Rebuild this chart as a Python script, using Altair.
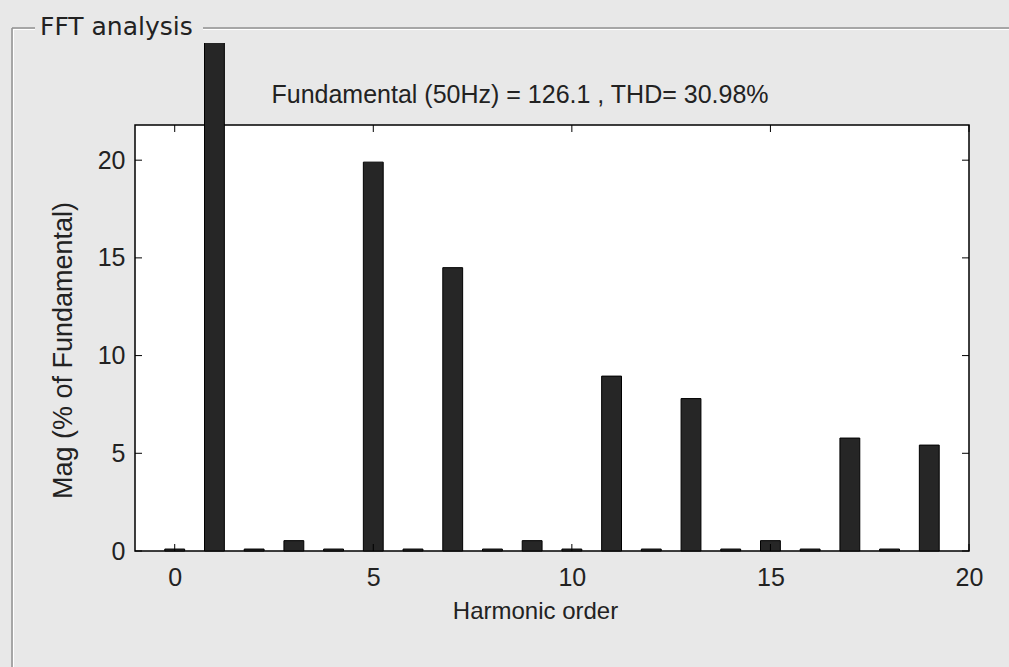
import altair as alt
import pandas as pd

# ---- data ----
harmonics = list(range(20))
magnitudes = [0.1, 100.0, 0.1, 0.53, 0.1, 19.9, 0.1, 14.5, 0.1, 0.53,
              0.1, 8.95, 0.1, 7.8, 0.1, 0.53, 0.1, 5.78, 0.1, 5.42]
x_tick_values = [0, 5, 10, 15, 20]
y_tick_values = [0, 5, 10, 15, 20]
x_domain = [-1, 20]
y_domain = [0, 21.8]
panel_title = "FFT analysis"
plot_title = "Fundamental (50Hz) = 126.1  , THD= 30.98%"
x_title = "Harmonic order"
y_title = "Mag (% of Fundamental)"

W, H = 834, 426
BG = "#e8e8e8"
FONT = "Liberation Sans"

bars_df = pd.DataFrame({"h": harmonics, "mag": magnitudes})
xt_df = pd.DataFrame({"x0": x_tick_values})
yt_df = pd.DataFrame({"mag": y_tick_values})
one = pd.DataFrame({"k": [0]})

xs = alt.Scale(domain=x_domain, nice=False, zero=False)
ys = alt.Scale(domain=y_domain, nice=False)

x_axis = alt.Axis(
    values=x_tick_values, ticks=False, domain=False, grid=False,
    labelFont=FONT, labelFontSize=25, labelColor="#222222",
    labelBaseline="alphabetic", labelPadding=34, labelFlush=False,
    title=x_title, titleFont=FONT, titleFontSize=24, titleFontWeight="normal",
    titleColor="#222222", titleX=400, titleY=67, titleBaseline="alphabetic",
    titleAlign="center")
y_axis = alt.Axis(
    values=y_tick_values, ticks=False, domain=False, grid=False,
    labelFont=FONT, labelFontSize=25, labelColor="#222222",
    labelBaseline="middle", labelPadding=10, labelFlush=False,
    title=y_title, titleFont=FONT, titleFontSize=27, titleFontWeight="normal",
    titleColor="#222222", titleAngle=270, titleX=-64, titleY=225,
    titleBaseline="alphabetic", titleAlign="center")

bars = alt.Chart(bars_df).transform_calculate(
    x0="datum.h - 0.25", x1="datum.h + 0.25"
).mark_bar(color="#262626", stroke="#000000", strokeWidth=1, clip=False).encode(
    x=alt.X("x0:Q", scale=xs, axis=x_axis),
    x2="x1:Q",
    y=alt.Y("mag:Q", scale=ys, axis=y_axis),
    y2=alt.datum(0),
)

# ticks drawn inside the box (bottom/top, left/right)
xt_bottom = alt.Chart(xt_df).mark_rule(color="#000000", strokeWidth=1).encode(
    x=alt.X("x0:Q", scale=xs, axis=x_axis), y=alt.value(H), y2=alt.value(H - 7))
xt_top = alt.Chart(xt_df).mark_rule(color="#000000", strokeWidth=1).encode(
    x=alt.X("x0:Q", scale=xs, axis=x_axis), y=alt.value(0), y2=alt.value(7))
yt_left = alt.Chart(yt_df).mark_rule(color="#000000", strokeWidth=1).encode(
    y=alt.Y("mag:Q", scale=ys, axis=y_axis), x=alt.value(0), x2=alt.value(7))
yt_right = alt.Chart(yt_df).mark_rule(color="#000000", strokeWidth=1).encode(
    y=alt.Y("mag:Q", scale=ys, axis=y_axis), x=alt.value(W), x2=alt.value(W - 7))

# panel decoration (uipanel look)
cover = alt.Chart(one).mark_rect(color=BG).encode(
    x=alt.value(-135), x2=alt.value(874), y=alt.value(-125), y2=alt.value(-82))
line_a = alt.Chart(one).mark_rule(color="#909090", strokeWidth=1.5).encode(
    x=alt.value(-123), x2=alt.value(-100), y=alt.value(-97))
line_b = alt.Chart(one).mark_rule(color="#909090", strokeWidth=1.5).encode(
    x=alt.value(68), x2=alt.value(874), y=alt.value(-97))
line_c = alt.Chart(one).mark_rule(color="#909090", strokeWidth=1.5).encode(
    x=alt.value(-123), y=alt.value(-97), y2=alt.value(542))
line_a2 = alt.Chart(one).mark_rule(color="#ffffff", strokeWidth=1).encode(
    x=alt.value(-122), x2=alt.value(-100), y=alt.value(-95.5))
line_b2 = alt.Chart(one).mark_rule(color="#ffffff", strokeWidth=1).encode(
    x=alt.value(68), x2=alt.value(874), y=alt.value(-95.5))
line_c2 = alt.Chart(one).mark_rule(color="#ffffff", strokeWidth=1).encode(
    x=alt.value(-121.5), y=alt.value(-95.5), y2=alt.value(542))
ptitle = alt.Chart(one).mark_text(
    font="DejaVu Sans", fontSize=25, color="#222222", align="left",
    baseline="alphabetic").encode(
    x=alt.value(-95), y=alt.value(-90), text=alt.value(panel_title))
title_txt = alt.Chart(one).mark_text(
    font=FONT, fontSize=25, color="#222222", align="center",
    baseline="alphabetic").encode(
    x=alt.value(385), y=alt.value(-22), text=alt.value(plot_title))

chart = alt.layer(
    bars, xt_bottom, xt_top, yt_left, yt_right,
    cover, line_a, line_b, line_c, line_a2, line_b2, line_c2, ptitle, title_txt
).properties(
    width=W, height=H,
    autosize=alt.AutoSizeParams(type="none"),
    padding={"left": 135, "top": 125, "right": 40, "bottom": 116},
    background=BG,
).configure_view(
    fill="#ffffff", stroke="#000000", strokeWidth=1.5
)

chart.save("out.html", embed_options={"renderer": "svg", "actions": False})
